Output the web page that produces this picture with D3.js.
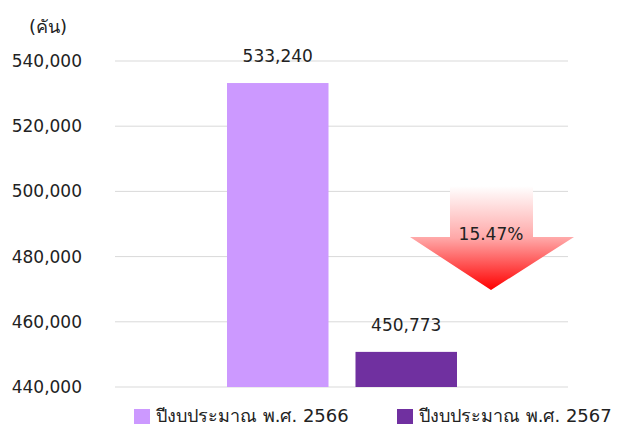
<!DOCTYPE html>
<html>
<head>
<meta charset="utf-8">
<script src="https://cdn.jsdelivr.net/npm/d3@7"></script>
<style>
  body { margin: 0; background: #fff; }
  text { font-family: Tahoma, "DejaVu Sans", "Noto Sans", sans-serif; fill: #222; }
</style>
</head>
<body>
<svg id="chart" width="618" height="426"></svg>
<script>
// data
const series = ['ปีงบประมาณ พ.ศ. 2566', 'ปีงบประมาณ พ.ศ. 2567'];
const values = [533240, 450773];
const colors = ['#CC99FF', '#7030A0'];
const yTicks = [440000, 460000, 480000, 500000, 520000, 540000];
const unitLabel = '(คัน)';
const changeLabel = '15.47%';

const svg = d3.select('#chart');
const fmt = d3.format(',');

// scales
const y = d3.scaleLinear().domain([440000, 540000]).range([387, 61]);
const x = d3.scaleBand().domain(series).range([227, 457]).paddingInner(0.21).paddingOuter(0);

// gridlines
svg.append('g')
  .selectAll('line')
  .data(yTicks)
  .join('line')
  .attr('x1', 115).attr('x2', 568)
  .attr('y1', d => y(d)).attr('y2', d => y(d))
  .attr('stroke', '#d9d9d9')
  .attr('stroke-width', 1);

// y axis labels
const yAxis = svg.append('g')
  .attr('transform', 'translate(82,0)')
  .call(d3.axisLeft(y).tickValues(yTicks).tickFormat(fmt).tickSize(0).tickPadding(0));
yAxis.select('.domain').remove();
yAxis.selectAll('text')
  .attr('font-size', 17)
  .style('font-family', 'Tahoma, "DejaVu Sans", sans-serif')
  .attr('fill', '#222');

svg.append('text')
  .attr('x', 48).attr('y', 33)
  .attr('text-anchor', 'middle')
  .attr('font-size', 18)
  .text(unitLabel);

// bars
svg.append('g')
  .selectAll('rect')
  .data(values)
  .join('rect')
  .attr('x', (d, i) => x(series[i]))
  .attr('y', d => y(d))
  .attr('width', x.bandwidth())
  .attr('height', d => y(440000) - y(d))
  .attr('fill', (d, i) => colors[i]);

// value labels
svg.append('g')
  .selectAll('text')
  .data(values)
  .join('text')
  .attr('x', (d, i) => x(series[i]) + x.bandwidth() / 2)
  .attr('y', d => y(d) - 21)
  .attr('text-anchor', 'middle')
  .attr('font-size', 17)
  .text(d => fmt(d));

// down arrow with gradient
const grad = svg.append('defs').append('linearGradient')
  .attr('id', 'arrowGrad')
  .attr('x1', 0).attr('y1', 0).attr('x2', 0).attr('y2', 1);
grad.append('stop').attr('offset', '0%').attr('stop-color', '#ffffff');
grad.append('stop').attr('offset', '50%').attr('stop-color', '#ffa8a8');
grad.append('stop').attr('offset', '100%').attr('stop-color', '#ff0000');

const ax = 491, arrowTop = 186, headY = 237, tipY = 290;
const arrowPts = [
  [ax - 41, arrowTop], [ax + 42, arrowTop], [ax + 42, headY], [ax + 83, headY],
  [ax, tipY], [ax - 81, headY], [ax - 41, headY]
];
svg.append('path')
  .attr('d', d3.line()(arrowPts) + 'Z')
  .attr('fill', 'url(#arrowGrad)');

svg.append('text')
  .attr('x', ax).attr('y', 240)
  .attr('text-anchor', 'middle')
  .attr('font-size', 17)
  .text(changeLabel);

// legend
const legendX = [134, 397];
const legend = svg.append('g')
  .selectAll('g')
  .data(series)
  .join('g')
  .attr('transform', (d, i) => `translate(${legendX[i]},409)`);
legend.append('rect')
  .attr('width', 16).attr('height', 15)
  .attr('fill', (d, i) => colors[i]);
legend.append('text')
  .attr('x', 22).attr('y', 13)
  .attr('font-size', 18)
  .text(d => d);
</script>
</body>
</html>
